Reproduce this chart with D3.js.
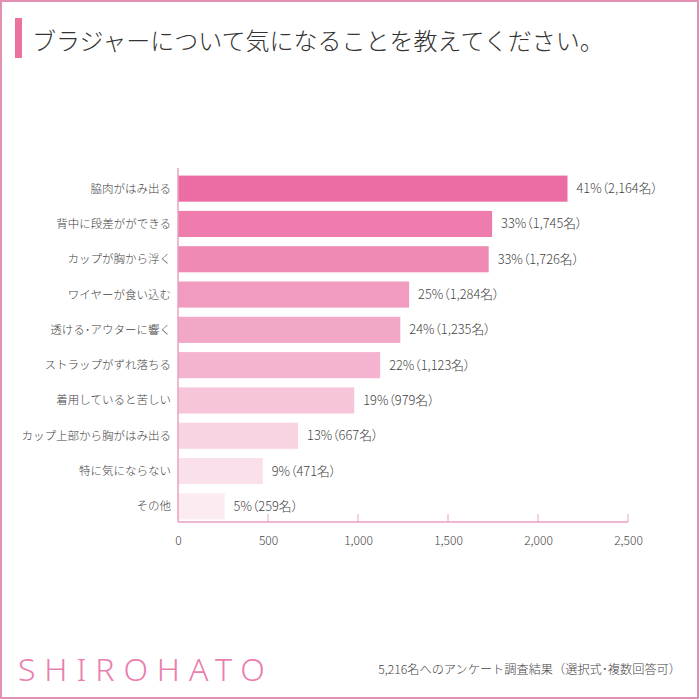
<!DOCTYPE html>
<html><head><meta charset="utf-8">
<script src="https://cdn.jsdelivr.net/npm/d3@7"></script>
<style>
html,body{margin:0;padding:0;background:#fff;}
svg{display:block;}
text{font-family:"Noto Sans CJK JP","Noto Sans",sans-serif;}
.val{font-feature-settings:"palt";}
</style></head>
<body>
<svg id="chart" width="700" height="700"></svg>
<script>
const categories = ["脇肉がはみ出る","背中に段差ができる","カップが胸から浮く","ワイヤーが食い込む","透ける・アウターに響く","ストラップがずれ落ちる","着用していると苦しい","カップ上部から胸がはみ出る","特に気にならない","その他"];
const displayLabels = ["脇肉がはみ出る","背中に段差ががで" + "きる","カップが胸から浮く","ワイヤーが食い込む","透ける･アウターに響く","ストラップがずれ落ちる","着用していると苦しい","カップ上部から胸がはみ出る","特に気にならない","その他"];
const counts = [2164,1745,1726,1284,1235,1123,979,667,471,259];
const percents = [41,33,33,25,24,22,19,13,9,5];
const barColors = ["#ec6da3","#ee7dad","#ef8ab5","#f09bbf","#f2a7c7","#f4b3cf","#f6c5da","#f8d3e2","#fae0ea","#fcecf2"];
const xTicks = [0,500,1000,1500,2000,2500];
const title = "ブラジャーについて気になることを教えてください。";
const note = "5,216名へのアンケート調査結果（選択式･複数回答可）";
const brand = "SHIROHATO";

const svg = d3.select("#chart");
// frame
svg.append("rect").attr("x",1).attr("y",1).attr("width",697).attr("height",697)
  .attr("fill","#fff").attr("stroke","#e291b5").attr("stroke-width",2);
// title bar
svg.append("rect").attr("x",15).attr("y",18).attr("width",7).attr("height",40).attr("fill","#e8739f");
svg.append("text").attr("x",32).attr("y",50).attr("font-size",24).attr("font-weight",300)
  .attr("fill","#333").text(title);

const x = d3.scaleLinear().domain([0,2500]).range([178,628]);
const y = d3.scaleBand().domain(categories).range([171,524]).paddingInner(0.26).paddingOuter(0.13);

// bars
svg.append("g").selectAll("rect").data(categories).join("rect")
  .attr("x",x(0)).attr("y",d=>y(d)).attr("width",(d,i)=>x(counts[i])-x(0))
  .attr("height",y.bandwidth()).attr("fill",(d,i)=>barColors[i]);

// category labels
svg.append("g").selectAll("text").data(categories).join("text")
  .attr("x",171).attr("y",d=>y(d)+y.bandwidth()/2).attr("dy","0.35em")
  .attr("text-anchor","end").attr("font-size",11.5).attr("fill","#444").attr("font-weight",300)
  .text((d,i)=>displayLabels[i]);

// value labels
svg.append("g").selectAll("text").data(categories).join("text")
  .attr("class","val")
  .attr("x",(d,i)=>x(counts[i])+9).attr("y",d=>y(d)+y.bandwidth()/2).attr("dy","0.35em")
  .attr("font-size",12.8).attr("fill","#444").attr("font-weight",300)
  .text((d,i)=>`${percents[i]}%（${d3.format(",")(counts[i])}名）`);

// axes
const axisY = 522;
const xAxis = d3.axisBottom(x).tickValues(xTicks).tickFormat(d3.format(",")).tickSize(0).tickPadding(14);
const gx = svg.append("g").attr("transform",`translate(0,${axisY})`).call(xAxis);
gx.select(".domain").remove();
gx.selectAll("text").attr("font-size",12).attr("fill","#444").attr("font-weight",300)
  .style("font-family","'Noto Sans CJK JP',sans-serif");
svg.append("line").attr("x1",178).attr("x2",628).attr("y1",axisY).attr("y2",axisY).attr("stroke","#e8a0c0").attr("stroke-width",1.5);
svg.append("g").selectAll("line").data(xTicks.slice(1)).join("line")
  .attr("x1",d=>x(d)).attr("x2",d=>x(d)).attr("y1",axisY-8).attr("y2",axisY).attr("stroke","#e8a0c0");
svg.append("line").attr("x1",178).attr("x2",178).attr("y1",168).attr("y2",axisY).attr("stroke","#e8a0c0").attr("stroke-width",1.5);

// footer
svg.append("text").attr("x",18).attr("y",681).attr("font-size",32).attr("font-weight",300)
  .attr("letter-spacing",8.9).attr("fill","#e97fae").style("font-family","'Noto Sans','Open Sans',sans-serif").text(brand);
svg.append("text").attr("x",681).attr("y",674).attr("text-anchor","end").attr("font-size",12.2)
  .attr("font-weight",300).attr("fill","#444").text(note);
</script>
</body></html>
